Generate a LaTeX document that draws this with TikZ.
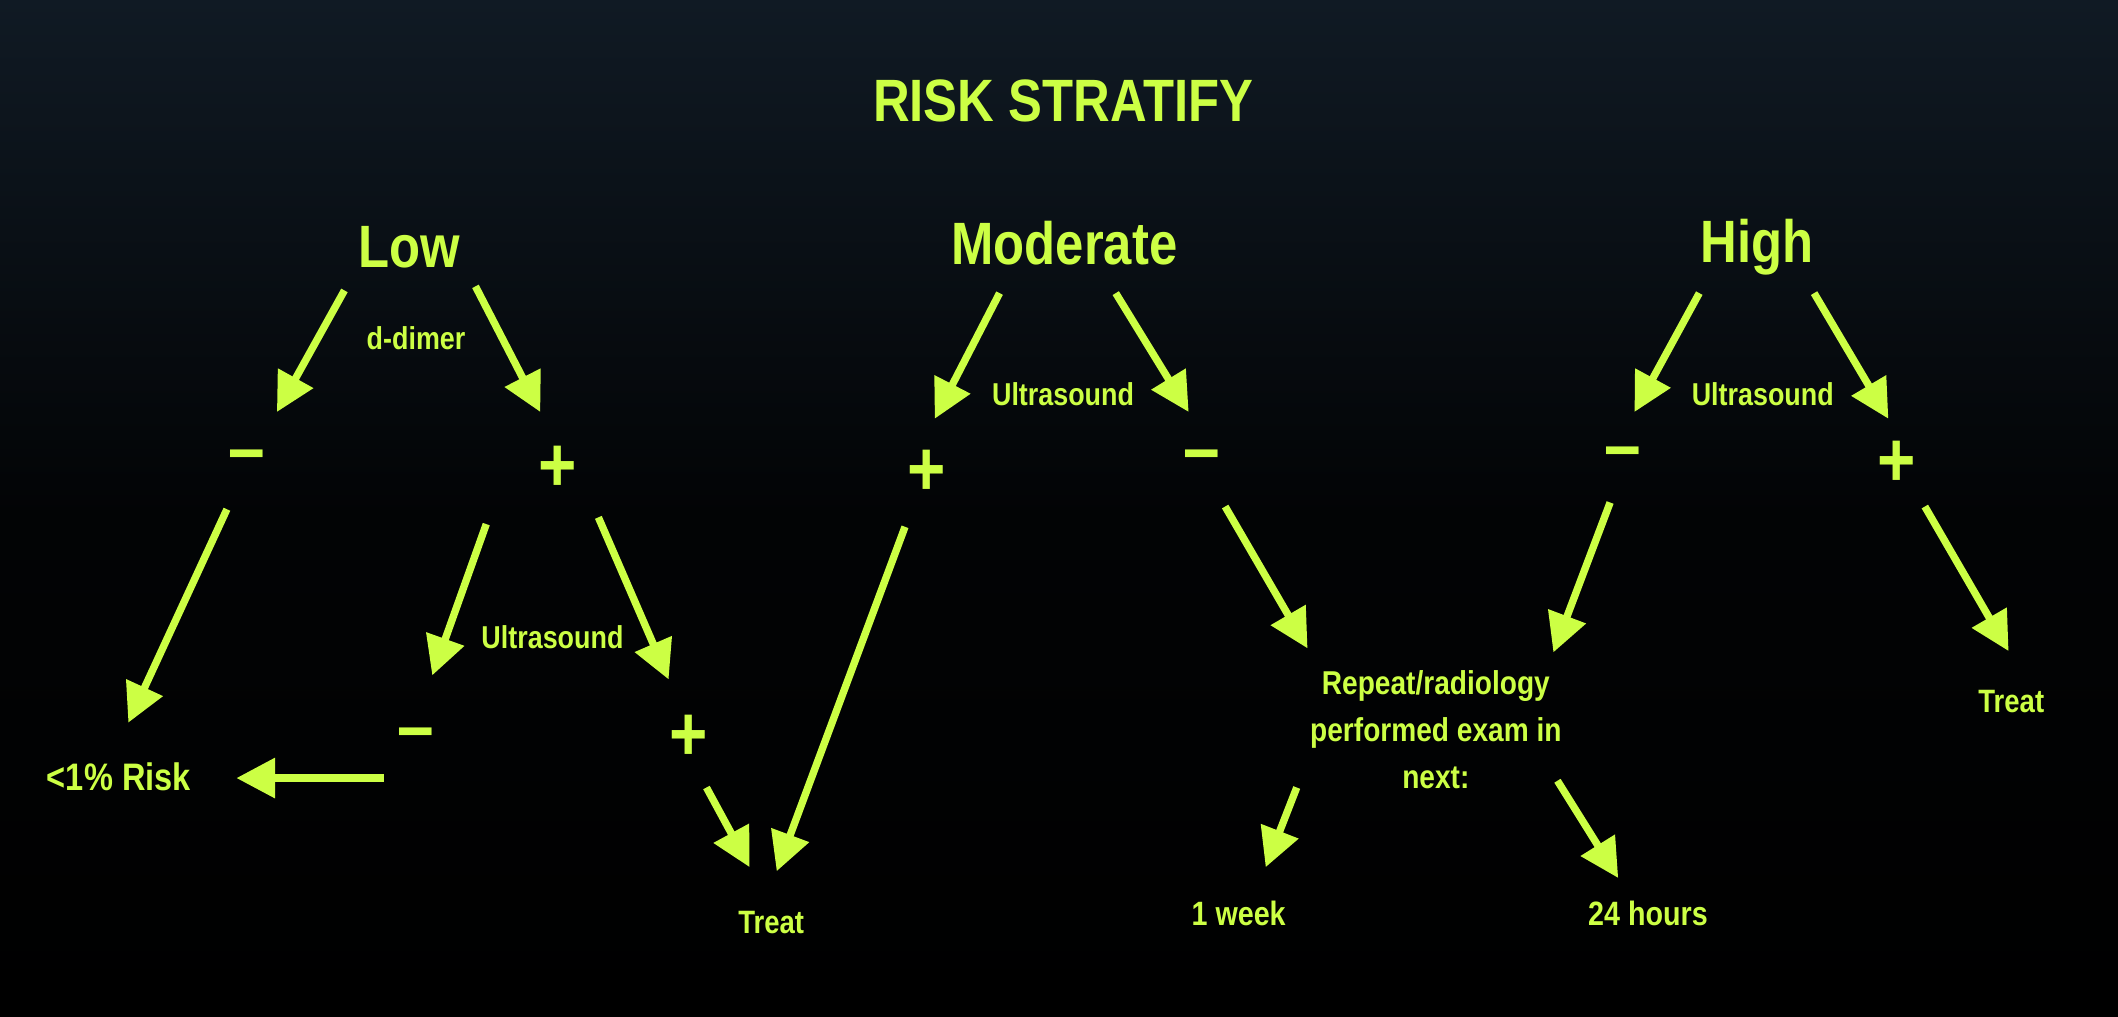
\documentclass[tikz,border=0pt]{standalone}
\usepackage{fontspec}
\setmainfont{Liberation Sans}[FakeStretch=0.85]
\usetikzlibrary{arrows.meta}
\definecolor{lime}{RGB}{204,255,68}
\definecolor{topbg}{RGB}{16,26,36}
\tikzset{
  lbl/.style={text=lime,font=\bfseries\fontsize{#1}{#1}\selectfont,inner sep=0pt,align=center},
  arr/.style={draw=lime,line width=2.1pt,-{Triangle[length=11pt,width=11pt]}}
}
\begin{document}
\begin{tikzpicture}[x=0.013508cm,y=-0.013508cm]
\shade[top color=topbg,bottom color=black,middle color=black!85!topbg] (0,0) rectangle (1568,752.2);
\useasboundingbox (0,0) rectangle (1568,752.2);
\node[lbl=17] (title) at (787,75) {RISK STRATIFY};
\node[lbl=17] (low) at (303,183) {Low};
\node[lbl=17] (mod) at (788,180) {Moderate};
\node[lbl=17] (high) at (1301,183) {High};
\node[lbl=9] (dd) at (308,250) {d-dimer};
\node[lbl=9] (us1) at (787,292) {Ultrasound};
\node[lbl=9] (us2) at (1305,292) {Ultrasound};
\node[lbl=9] (us3) at (409,472) {Ultrasound};
\node[lbl=22] (s1) at (183,342) {--};
\node[lbl=22] (s2) at (413,347) {+};
\node[lbl=22] (s3) at (686,350) {+};
\node[lbl=22] (s4) at (890,342) {--};
\node[lbl=22] (s5) at (1201,340) {--};
\node[lbl=22] (s6) at (1404,343) {+};
\node[lbl=22] (s7) at (308,548) {--};
\node[lbl=22] (s8) at (510,546) {+};
\node[lbl=10.9] (risk) at (88,575) {<1\% Risk};
\node[lbl=9.2] (treat1) at (571,683) {Treat};
\node[lbl=9.4] (rep) at (1063,540) {Repeat/radiology\\[4pt]performed exam in\\[4pt]next:};
\node[lbl=9.6] (wk) at (917,676) {1 week};
\node[lbl=9.6] (hr) at (1220,676) {24 hours};
\node[lbl=9.2] (treat2) at (1489,519) {Treat};
\foreach \n/\a/\b/\c/\d in {
 a1/255/215/205/305, a2/352/212/400/305,
 a3/168/377/95/535, a4/360/388/320/500, a5/443/383/495/503,
 a6/284/576/175/576, a7/523/583/555/642,
 a8/740/217/692/310, a9/826/217/880/305,
 a10/670/390/575/645, a11/907/375/968/480,
 a12/1258/217/1210/305, a13/1343/217/1398/310,
 a14/1192/372/1150/483, a15/1425/375/1487/482,
 a16/960/583/937/642, a17/1153/578/1198/650}{
 \coordinate (\n s) at (\a,\b);
 \coordinate (\n e) at (\c,\d);
 \draw[arr] (\n s) -- (\n e);
}
\end{tikzpicture}
\end{document}
